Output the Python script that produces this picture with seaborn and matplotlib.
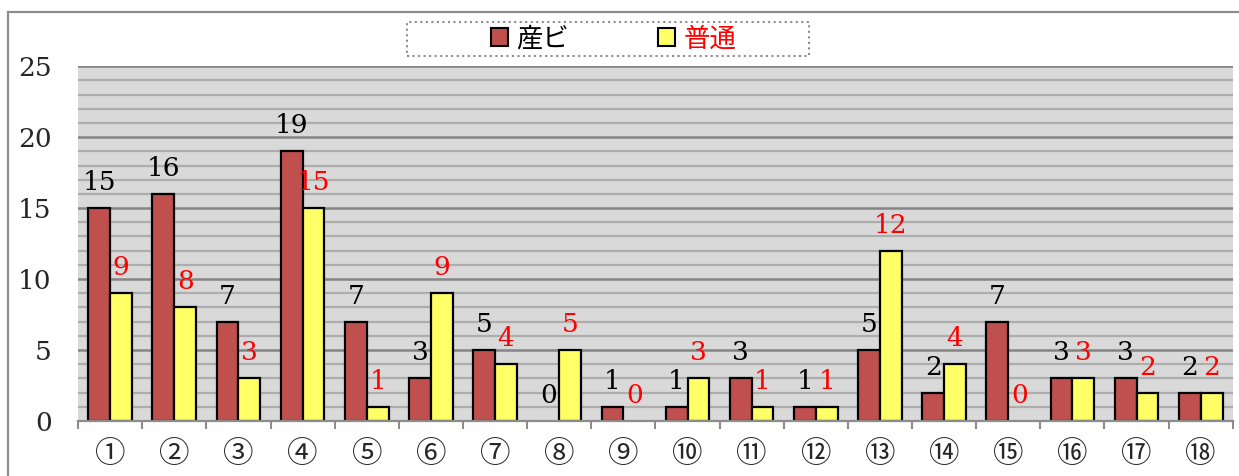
import matplotlib

matplotlib.use("Agg")
import matplotlib.pyplot as plt
import pandas as pd
import seaborn as sns
from matplotlib.patches import Rectangle

# data
categories = ["①", "②", "③", "④", "⑤", "⑥", "⑦", "⑧", "⑨",
              "⑩", "⑪", "⑫", "⑬", "⑭", "⑮", "⑯", "⑰", "⑱"]
sanbi = [15, 16, 7, 19, 7, 3, 5, 0, 1, 1, 3, 1, 5, 2, 7, 3, 3, 2]
futsu = [9, 8, 3, 15, 1, 9, 4, 5, 0, 3, 1, 1, 12, 4, 0, 3, 2, 2]
series = ["産ビ", "普通"]
bar_colors = ["#C0504D", "#FFFF66"]
text_colors = ["black", "red"]

df = pd.DataFrame({
    "cat": categories * 2,
    "series": [series[0]] * len(sanbi) + [series[1]] * len(futsu),
    "value": sanbi + futsu,
})

sns.set_theme(style="white")
plt.rcParams["font.family"] = ["DejaVu Serif", "Noto Sans CJK JP", "DejaVu Sans"]

fig = plt.figure(figsize=(12.39, 4.76), dpi=100)
ax = fig.add_axes([0.063, 0.1155, 0.932, 0.7455])
ax.set_facecolor("#D9D9D9")

sns.barplot(data=df, x="cat", y="value", hue="series", palette=bar_colors,
            saturation=1, width=0.68, edgecolor="black", linewidth=1.6,
            legend=False, ax=ax)

# value labels above each bar
for container, vals, col in zip(ax.containers, [sanbi, futsu], text_colors):
    for bar, v in zip(container, vals):
        if v == 0:
            bar.set_visible(False)
        ax.text(bar.get_x() + bar.get_width() / 2, v + 1.8, str(v),
                ha="center", va="center", color=col, fontsize=19)

ax.set_xlim(-0.5, len(categories) - 0.5)
ax.set_ylim(0, 25)
ax.set_yticks(range(0, 26, 5))
ax.set_yticks(range(0, 26), minor=True)
ax.yaxis.grid(True, which="minor", color="#ADADAD", lw=1.6)
ax.yaxis.grid(True, which="major", color="#858585", lw=1.8)
ax.set_axisbelow(True)
ax.set_xlabel("")
ax.set_ylabel("")

ax.set_xticks([i - 0.5 for i in range(len(categories) + 1)], minor=True)
ax.tick_params(axis="x", which="major", length=0, pad=13, labelsize=22)
for lbl in ax.get_xticklabels():
    lbl.set_family(["Noto Sans CJK JP", "DejaVu Sans"])
ax.tick_params(axis="x", which="minor", length=6, width=1.5, color="#8C8C8C",
               direction="out", bottom=True)
ax.tick_params(axis="y", which="both", length=0, pad=19, labelsize=19)

for side in ["top", "right", "left"]:
    ax.spines[side].set_visible(False)
ax.spines["bottom"].set_color("#8C8C8C")
ax.spines["bottom"].set_linewidth(1.6)

# legend
handles = [Rectangle((0, 0), 1, 1, fc=c, ec="black", lw=1.5) for c in bar_colors]
leg = fig.legend(handles, series, loc="center", bbox_to_anchor=(0.495, 0.918),
                 ncol=2, frameon=False, fontsize=19, handlelength=0.65,
                 handleheight=0.65, handletextpad=0.3, columnspacing=3.4)
for txt, col in zip(leg.get_texts(), text_colors):
    txt.set_color(col)
    txt.set_family(["Noto Sans CJK JP", "DejaVu Sans"])
fig.add_artist(Rectangle((407 / 1239, 1 - 56 / 476), 402 / 1239, 34 / 476,
                         transform=fig.transFigure, fill=False, ls=":",
                         ec="#8C8C8C", lw=1.5))

# outer chart border
fig.add_artist(Rectangle((8 / 1239, -0.5), 2, (476 - 12) / 476 + 0.5,
                         transform=fig.transFigure, fill=False,
                         ec="#8C8C8C", lw=1.6))

fig.savefig("out.png", dpi=100)
